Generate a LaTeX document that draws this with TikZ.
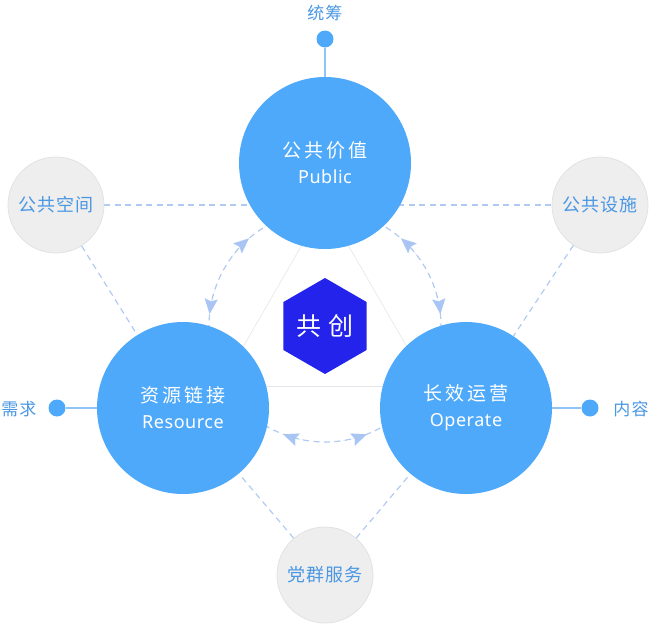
\documentclass[tikz,border=0pt]{standalone}
\usepackage{fontspec}
\usetikzlibrary{arrows.meta,shapes.geometric,backgrounds}
\newfontfamily\zhfont{Noto Sans CJK SC}
\newfontfamily\zhwide[LetterSpace=16]{Noto Sans CJK SC}
\newfontfamily\zhgrey[LetterSpace=6]{Noto Sans CJK SC}
\newfontfamily\zhhex[LetterSpace=30]{Noto Sans CJK SC}
\newfontfamily\enfont[LetterSpace=3]{Noto Sans}
\definecolor{mainblue}{HTML}{4EA9FA}
\definecolor{hexblue}{HTML}{2323EC}
\definecolor{greyfill}{HTML}{EEEEEE}
\definecolor{greyedge}{HTML}{E2E2E2}
\definecolor{labelblue}{HTML}{4A97E3}
\definecolor{dashblue}{HTML}{B0CAF2}
\definecolor{tipblue}{HTML}{A9C5F3}
\definecolor{stemblue}{HTML}{8EC5F7}
\definecolor{trigrey}{HTML}{E2E5EA}
\begin{document}
\begin{tikzpicture}[
        x=1pt, y=1pt,
        font=\zhfont
    ]
    \tikzset{
        bignode/.style = {circle, fill=mainblue, text=white, minimum size=172pt, inner sep=0pt, align=center,
            font=\zhwide\fontsize{19}{26}\selectfont},
        greynode/.style = {circle, fill=greyfill, draw=greyedge, line width=0.8pt, minimum size=96pt, inner sep=0pt,
            text=labelblue, font=\zhgrey\fontsize{18}{21}\selectfont},
        dotnode/.style = {circle, fill=mainblue, minimum size=17pt, inner sep=0pt},
        dottext/.style = {inner sep=0pt, text=labelblue, font=\zhgrey\fontsize{17}{20}\selectfont},
        hexnode/.style = {regular polygon, regular polygon sides=6, shape border rotate=30, fill=hexblue,
            minimum size=96pt, inner sep=0pt, text=white, font=\zhhex\fontsize{25}{28}\selectfont},
        edget/.style = {-, line width=0.6pt, trigrey},
        edged/.style = {-, line width=1.2pt, dashblue, dash pattern=on 6pt off 4.5pt},
        edgetip/.style = {-{Stealth[length=15pt,width=13pt,inset=2.5pt]}, line width=0.05pt, tipblue},
        edges/.style = {-, line width=1.2pt, stemblue},
    }
    \useasboundingbox (0,0) rectangle (650,-624);
    \node[bignode] at (325,-163) (public) {公共价值\\{\enfont\fontsize{18}{26}\selectfont Public}};
    \node[bignode] at (183,-408) (resource) {资源链接\\{\enfont\fontsize{18}{26}\selectfont Resource}};
    \node[bignode] at (466,-408) (operate) {长效运营\\{\enfont\fontsize{18}{26}\selectfont Operate}};
    \node[hexnode] at (325,-326) (hex) {共创};
    \node[greynode] at (56,-205) (space) {公共空间};
    \node[greynode] at (600,-205) (facility) {公共设施};
    \node[greynode] at (325,-575) (party) {党群服务};
    \node[dotnode] at (325,-39) (tcdot) {};
    \node[dottext] at (325,-13) (tctext) {统筹};
    \node[dotnode] at (57,-408) (xqdot) {};
    \node[dottext] at (19,-409) (xqtext) {需求};
    \node[dotnode] at (590,-408) (nrdot) {};
    \node[dottext] at (631,-409) (nrtext) {内容};
    %
    \begin{scope}[on background layer]
    \path (hex) ++(90:121) coordinate (ta) (hex) ++(210:121) coordinate (tb) (hex) ++(330:121) coordinate (tc);
    \draw[edget] (ta) -- (tb) -- (tc) -- cycle;
    \draw[edged] (space) -- (facility);
    \draw[edged] (hex) ++(112:116pt) arc[start angle=112, end angle=192, radius=116pt];
    \draw[edged] (hex) ++(-12:116pt) arc[start angle=-12, end angle=68, radius=116pt];
    \draw[edged] (hex) ++(228:116pt) arc[start angle=228, end angle=312, radius=116pt];
    \end{scope}
    %
    \draw[edgetip] (hex) ++(143:116pt) arc[start angle=143, end angle=131, radius=116pt];
    \draw[edgetip] (hex) ++(162:116pt) arc[start angle=162, end angle=174, radius=116pt];
    \draw[edgetip] (hex) ++(18:116pt) arc[start angle=18, end angle=6, radius=116pt];
    \draw[edgetip] (hex) ++(37:116pt) arc[start angle=37, end angle=49, radius=116pt];
    \draw[edgetip] (hex) ++(261:116pt) arc[start angle=261, end angle=249, radius=116pt];
    \draw[edgetip] (hex) ++(279:116pt) arc[start angle=279, end angle=291, radius=116pt];
    %
    \draw[edged] (space) -- (resource);
    \draw[edged] (facility) -- (operate);
    \draw[edged] (party) -- (resource);
    \draw[edged] (party) -- (operate);
    %
    \draw[edges] (tcdot) -- (public);
    \draw[edges] (xqdot) -- (resource);
    \draw[edges] (nrdot) -- (operate);
\end{tikzpicture}
\end{document}
